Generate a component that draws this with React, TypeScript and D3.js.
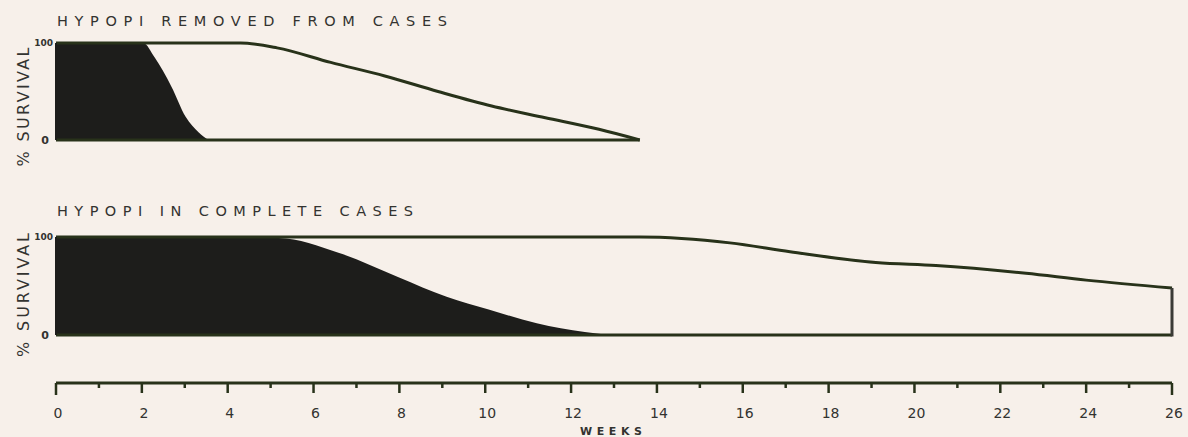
import React from "react";
import * as d3 from "d3";

// ---- Data (weeks, % survival) ----
const topTitle = "HYPOPI REMOVED FROM CASES";
const bottomTitle = "HYPOPI IN COMPLETE CASES";
const yLabel = "% SURVIVAL";
const xLabel = "WEEKS";

// Panel 1: hypopi removed from cases
const removedShadedWeeks = [0, 2.03, 2.3, 2.69, 3.02, 3.32, 3.55];
const removedShadedPct = [100, 100, 85, 55, 24, 8, 0];
const removedOuterWeeks = [0, 4.3, 5.15, 6.4, 7.66, 8.9, 10.15, 11.4, 12.65, 13.6];
const removedOuterPct = [100, 100, 95, 80, 66, 50, 35, 23, 11, 0];

// Panel 2: hypopi in complete cases
const completeShadedWeeks = [0, 5.19, 6.58, 7.98, 9.1, 10.08, 11.2, 12.32, 12.88];
const completeShadedPct = [100, 99, 84, 59, 39, 26, 12, 3, 0];
const completeOuterWeeks = [0, 5.2, 13.6, 15.7, 17.1, 19.1, 20.5, 22.6, 24.0, 26];
const completeOuterPct = [100, 100, 100, 94, 85, 74, 71, 63, 56, 48];

const xTicks = d3.range(0, 27, 1);
const xTickLabels = d3.range(0, 27, 2).map(String);
const yTickLabels = ["0", "100"];

const W = 1188;
const H = 437;
const BG = "#f7f0ea";
const LINE = "#28321a";
const FILL = "#1d1d1b";
const TEXT = "#333330";
const FONT = "'DejaVu Sans', 'Liberation Sans', sans-serif";

const x = d3.scaleLinear().domain([0, 26]).range([56, 1172]);

type Panel = {
  title: string;
  titleY: number;
  titleLen: number;
  y: d3.ScaleLinear<number, number>;
  labelMid: number;
  labelLen: number;
  shadedW: number[];
  shadedP: number[];
  outerW: number[];
  outerP: number[];
  closeRight: boolean;
};

const panels: Panel[] = [
  {
    title: topTitle,
    titleY: 26,
    titleLen: 390,
    y: d3.scaleLinear().domain([0, 100]).range([140, 43]),
    labelMid: 107,
    labelLen: 119,
    shadedW: removedShadedWeeks,
    shadedP: removedShadedPct,
    outerW: removedOuterWeeks,
    outerP: removedOuterPct,
    closeRight: false,
  },
  {
    title: bottomTitle,
    titleY: 216,
    titleLen: 356,
    y: d3.scaleLinear().domain([0, 100]).range([335, 237]),
    labelMid: 295,
    labelLen: 124,
    shadedW: completeShadedWeeks,
    shadedP: completeShadedPct,
    outerW: completeOuterWeeks,
    outerP: completeOuterPct,
    closeRight: true,
  },
];

function PanelView({ p }: { p: Panel }) {
  const shaded = p.shadedW.map((w, i) => [w, p.shadedP[i]] as [number, number]);
  const outer = p.outerW.map((w, i) => [w, p.outerP[i]] as [number, number]);
  const area = d3
    .area<[number, number]>()
    .x((d) => x(d[0]))
    .y0(p.y(0))
    .y1((d) => p.y(d[1]))
    .curve(d3.curveMonotoneX);
  const line = d3
    .line<[number, number]>()
    .x((d) => x(d[0]))
    .y((d) => p.y(d[1]))
    .curve(d3.curveMonotoneX);
  const lastW = p.outerW[p.outerW.length - 1];
  const lastP = p.outerP[p.outerP.length - 1];
  const y0 = p.y(0);
  const y100 = p.y(100);
  return (
    <g>
      <text
        x={x(0) + 1}
        y={p.titleY}
        fontFamily={FONT}
        fontSize={14.5}
        fill={TEXT}
        textLength={p.titleLen}
        lengthAdjust="spacing"
      >
        {p.title}
      </text>
      <path d={area(shaded) || ""} fill={FILL} />
      <path d={line(outer) || ""} fill="none" stroke={LINE} strokeWidth={3} strokeLinejoin="round" />
      <line x1={x(0)} x2={x(lastW)} y1={y0} y2={y0} stroke={LINE} strokeWidth={3} />
      {p.closeRight && (
        <line x1={x(lastW)} x2={x(lastW)} y1={y0 + 1.5} y2={p.y(lastP)} stroke="#3a3a36" strokeWidth={3} />
      )}
      <line x1={x(0)} x2={x(0)} y1={y0} y2={y100} stroke={FILL} strokeWidth={2} />
      <text x={x(0) - 3} y={y100 + 3} textAnchor="end" fontFamily={FONT} fontSize={9} fontWeight="bold" fill={TEXT}>
        {yTickLabels[1]}
      </text>
      <text x={x(0) - 7} y={y0 + 4} textAnchor="end" fontFamily={FONT} fontSize={11} fontWeight="bold" fill={TEXT}>
        {yTickLabels[0]}
      </text>
      <text
        transform={`translate(29,${p.labelMid}) rotate(-90)`}
        textAnchor="middle"
        fontFamily={FONT}
        fontSize={16}
        fill={TEXT}
        textLength={p.labelLen}
        lengthAdjust="spacing"
      >
        {yLabel}
      </text>
    </g>
  );
}

export default function App() {
  const axisY = 383;
  return (
    <svg
      width={W}
      height={H}
      viewBox={`0 0 ${W} ${H}`}
      style={{ position: "absolute", left: 0, top: 0, display: "block" }}
    >
      <rect x={0} y={0} width={W} height={H} fill={BG} />
      {panels.map((p, i) => (
        <PanelView key={i} p={p} />
      ))}
      {/* bottom axis */}
      <line x1={x(0)} x2={x(26)} y1={axisY} y2={axisY} stroke={LINE} strokeWidth={3} />
      {xTicks.map((t) => {
        const major = t % 2 === 0;
        const len = t === 0 || t === 26 ? 12 : major ? 10 : 5;
        return (
          <line key={t} x1={x(t)} x2={x(t)} y1={axisY} y2={axisY + len} stroke={LINE} strokeWidth={2.5} />
        );
      })}
      {xTickLabels.map((s) => (
        <text
          key={s}
          x={x(+s) + 2}
          y={418}
          textAnchor="middle"
          fontFamily={FONT}
          fontSize={14}
          fill={TEXT}
        >
          {s}
        </text>
      ))}
      <text
        x={611}
        y={435}
        textAnchor="middle"
        fontFamily={FONT}
        fontSize={11}
        fontWeight="bold"
        fill={TEXT}
        textLength={62}
        lengthAdjust="spacing"
      >
        {xLabel}
      </text>
    </svg>
  );
}
